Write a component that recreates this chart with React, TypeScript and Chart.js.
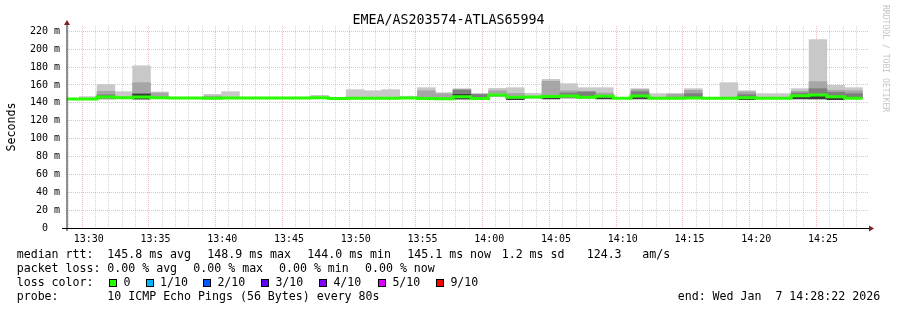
import React, { useEffect, useRef } from 'react';
import { Chart, registerables } from 'chart.js';

Chart.register(...registerables);

// ---------- data ----------
const TITLE = 'EMEA/AS203574-ATLAS65994';
const START_TIME = '13:28:22';
const END_TIME = '14:28:22';
const FIRST_STEP_TIME = '13:27:57';
const STEP_SECONDS = 80;

// median rtt per 80 s step (ms)
const medianRtt: number[] = [
  144.3, 144.3, 146.7, 145.6, 146.7, 145.6, 145.5, 145.5, 145.2, 145.5,
  145.4, 145.4, 145.4, 145.4, 145.8, 145.0, 145.2, 145.3, 145.3, 145.4,
  145.0, 144.6, 146.9, 145.0, 148.9, 146.4, 146.5, 147.0, 147.6, 146.3,
  147.5, 145.2, 147.6, 145.2, 145.2, 145.4, 145.2, 145.2, 145.8, 145.2,
  145.2, 148.0, 148.9, 146.9, 145.2,
];

// smoke bands (ms), null where no spread is visible
const outerLo: (number | null)[] = [
  null, 144.0, 144.0, 145.0, 144.5, 144.8, null, null, 144.4, 145.0,
  null, null, null, null, 145.0, null, 145.0, 145.0, 145.0, 145.0,
  144.0, 144.0, 145.0, 145.0, 147.0, 144.5, 145.0, 144.5, 145.0, 145.0,
  145.0, null, 144.8, 145.0, 145.0, 145.0, null, 145.0, 144.8, 145.0,
  145.0, 144.6, 144.6, 144.8, 145.0,
];
const outerHi: (number | null)[] = [
  null, 147.0, 160.5, 152.5, 181.5, 152.2, null, null, 149.5, 152.5,
  null, null, null, null, 148.4, null, 154.8, 153.6, 154.8, 147.5,
  157.0, 151.4, 155.9, 150.6, 156.2, 157.0, 150.6, 166.3, 161.5, 157.0,
  157.0, null, 155.9, 150.3, 150.3, 155.9, null, 162.6, 153.6, 150.3,
  150.3, 155.9, 210.7, 159.6, 157.0,
];
const midLo: (number | null)[] = [
  null, null, 144.5, null, 145.0, 145.0, null, null, 145.0, null,
  null, null, null, null, null, null, null, null, null, null,
  144.5, 144.5, 145.2, null, 147.3, 145.0, null, 145.0, 145.5, null,
  145.2, null, 145.0, null, 145.0, 145.0, null, null, 145.0, null,
  null, 144.8, 144.8, 145.0, 145.0,
];
const midHi: (number | null)[] = [
  null, null, 153.0, null, 162.6, 151.0, null, null, 147.6, null,
  null, null, null, null, null, null, null, null, null, null,
  153.6, 150.2, 154.6, null, 153.6, 150.6, null, 164.2, 153.5, null,
  151.0, null, 154.8, null, 149.8, 154.0, null, null, 152.2, null,
  null, 153.0, 163.7, 154.0, 153.6,
];
const innerLo: (number | null)[] = [
  null, null, 145.0, null, 145.0, null, null, null, null, null,
  null, null, null, null, null, null, null, null, null, null,
  null, null, 145.3, 145.5, null, null, null, null, 146.0, 145.5,
  null, null, 145.2, null, null, 145.2, null, null, 145.0, null,
  null, 145.0, 145.0, 145.0, 145.2,
];
const innerHi: (number | null)[] = [
  null, null, 149.0, null, 150.3, null, null, null, null, null,
  null, null, null, null, null, null, null, null, null, null,
  null, null, 154.4, 149.5, null, null, null, null, 151.0, 152.5,
  null, null, 152.5, null, null, 150.3, null, null, 149.2, null,
  null, 151.0, 155.9, 151.7, 150.3,
];
const coreLo: (number | null)[] = [
  null, null, null, null, 144.2, null, null, null, null, null,
  null, null, null, null, null, null, null, null, null, null,
  null, null, 144.2, null, null, 143.6, null, 144.4, null, null,
  144.4, null, 144.4, null, null, null, null, null, 143.6, null,
  null, 144.4, 144.3, 143.6, null,
];
const coreHi: (number | null)[] = [
  null, null, null, null, 149.8, null, null, null, null, null,
  null, null, null, null, null, null, null, null, null, null,
  null, null, 149.5, null, null, 144.8, null, 145.5, null, null,
  146.0, null, 146.0, null, null, null, null, null, 144.5, null,
  null, 146.5, 147.5, 145.4, null,
];

const yTickStep = 10;
const yMax = 226;

const lossColors = [
  { label: '0', color: '#26ff00' },
  { label: '1/10', color: '#00b8ff' },
  { label: '2/10', color: '#0059ff' },
  { label: '3/10', color: '#5e00ff' },
  { label: '4/10', color: '#7e00ff' },
  { label: '5/10', color: '#dd00ff' },
  { label: '9/10', color: '#ff0000' },
];

const medianStats = ['145.8 ms avg', '148.9 ms max', '144.0 ms min', '145.1 ms now', '1.2 ms sd', '124.3', 'am/s'];
const lossStats = ['0.00 % avg', '0.00 % max', '0.00 % min', '0.00 % now'];
const probeText = '10 ICMP Echo Pings (56 Bytes) every 80s';
const endText = 'end: Wed Jan  7 14:28:22 2026';

// ---------- helpers ----------
const toSec = (t: string) => {
  const [h, m, s] = t.split(':').map(Number);
  return h * 3600 + m * 60 + (s || 0);
};
const t0 = toSec(START_TIME);
const t1 = toSec(END_TIME);
const slotStart = (k: number) => toSec(FIRST_STEP_TIME) - t0 + STEP_SECONDS * k;
const slotCenter = (k: number) => slotStart(k) + STEP_SECONDS / 2;
const pad2 = (n: number) => String(n).padStart(2, '0');

const MONO = '"DejaVu Sans Mono", monospace';

function band(lo: (number | null)[], hi: (number | null)[], color: string, order: number, label: string) {
  const data: { x: number; y: [number, number] }[] = [];
  lo.forEach((v, k) => {
    const h = hi[k];
    if (v != null && h != null) data.push({ x: slotCenter(k), y: [v, h] });
  });
  return {
    type: 'bar' as const,
    label,
    xAxisID: 'xData',
    yAxisID: 'y',
    data,
    backgroundColor: color,
    borderWidth: 0,
    grouped: false,
    barPercentage: 1,
    categoryPercentage: 1,
    order,
    clip: 0,
  };
}

const axesPlugin = {
  id: 'rrdAxes',
  afterDatasetsDraw(chart: any) {
    const { ctx, chartArea: a } = chart;
    ctx.save();
    ctx.strokeStyle = '#1f1f1f';
    ctx.lineWidth = 1;
    ctx.beginPath();
    ctx.moveTo(a.left, a.bottom + 3);
    ctx.lineTo(a.left, a.top - 3);
    ctx.stroke();
    ctx.strokeStyle = '#000';
    ctx.beginPath();
    ctx.moveTo(a.left - 5, Math.round(a.bottom) + 0.5);
    ctx.lineTo(a.right + 3, Math.round(a.bottom) + 0.5);
    ctx.stroke();
    ctx.fillStyle = '#801f1f';
    ctx.beginPath();
    ctx.moveTo(a.left - 3, a.top - 1);
    ctx.lineTo(a.left + 3, a.top - 1);
    ctx.lineTo(a.left, a.top - 6);
    ctx.closePath();
    ctx.fill();
    const by = Math.round(a.bottom) + 0.5;
    ctx.beginPath();
    ctx.moveTo(a.right + 1, by - 3);
    ctx.lineTo(a.right + 1, by + 3);
    ctx.lineTo(a.right + 6, by);
    ctx.closePath();
    ctx.fill();
    ctx.restore();
  },
};

const MINOR = 'rgba(143,143,143,0.38)';
const MAJOR = 'rgba(222,79,79,0.38)';

export default function App() {
  const canvasRef = useRef<HTMLCanvasElement | null>(null);

  useEffect(() => {
    const canvas = canvasRef.current;
    if (!canvas) return;
    const N = medianRtt.length;
    const medianData = medianRtt.map((m, k) => ({ x: slotStart(k), y: m }));
    medianData.push({ x: slotStart(N), y: medianRtt[N - 1] });

    const chart = new Chart(canvas, {
      type: 'bar',
      data: {
        datasets: [
          {
            type: 'line',
            label: 'median',
            xAxisID: 'xData',
            yAxisID: 'y',
            data: medianData,
            borderColor: '#26ff00',
            borderWidth: 3,
            pointRadius: 0,
            stepped: true,
            tension: 0,
            order: 0,
            clip: 0,
          } as any,
          band(coreLo, coreHi, '#3a3a3a', 1, 'core'),
          band(innerLo, innerHi, '#7e7e7e', 2, 'inner'),
          band(midLo, midHi, '#a6a6a6', 3, 'mid'),
          band(outerLo, outerHi, '#c8c8c8', 4, 'outer'),
        ],
      },
      options: {
        animation: false,
        responsive: false,
        devicePixelRatio: 1,
        events: [],
        layout: { padding: { left: 0, top: 26, right: 29, bottom: 0 } },
        plugins: { legend: { display: false }, tooltip: { enabled: false }, title: { display: false } },
        scales: {
          xData: {
            type: 'linear',
            display: false,
            min: 0,
            max: t1 - t0,
            offset: false,
          },
          x: {
            type: 'linear',
            position: 'bottom',
            min: 0,
            max: t1 - t0,
            offset: false,
            afterBuildTicks: (scale: any) => {
              const ticks: { value: number }[] = [];
              for (let s = Math.ceil(t0 / 60) * 60; s <= t1; s += 60) ticks.push({ value: s - t0 });
              scale.ticks = ticks;
            },
            afterFit: (scale: any) => {
              scale.height = 82;
            },
            ticks: {
              autoSkip: false,
              maxRotation: 0,
              minRotation: 0,
              padding: 5,
              color: '#000',
              font: { family: MONO, size: 10 },
              callback: (value: any) => {
                const minutes = Math.round((Number(value) + t0) / 60);
                if (minutes % 5 !== 0) return '';
                return `${pad2(Math.floor(minutes / 60))}:${pad2(minutes % 60)}`;
              },
            },
            grid: {
              drawTicks: false,
              lineWidth: 1,
              color: (ctx: any) => {
                const v = ctx.tick ? ctx.tick.value : 0;
                const minutes = Math.round((v + t0) / 60);
                return minutes % 5 === 0 ? MAJOR : MINOR;
              },
            },
            border: { display: false, dash: [1, 1] },
          },
          y: {
            type: 'linear',
            min: 0,
            max: yMax,
            afterFit: (scale: any) => {
              scale.width = 67;
            },
            ticks: {
              stepSize: yTickStep,
              includeBounds: false,
              padding: 7,
              color: '#000',
              font: { family: MONO, size: 10 },
              callback: (value: any) => {
                const v = Number(value);
                if (v % 20 !== 0) return '';
                return v === 0 ? '0  ' : `${v} m`;
              },
            },
            grid: {
              drawTicks: false,
              lineWidth: 1,
              color: (ctx: any) => {
                const v = ctx.tick ? ctx.tick.value : 0;
                return v % 20 === 0 ? MAJOR : MINOR;
              },
            },
            border: { display: false, dash: [1, 1] },
          },
        },
      } as any,
      plugins: [axesPlugin],
    });
    return () => chart.destroy();
  }, []);

  const txt = (left: number, top: number, text: string, extra: React.CSSProperties = {}) => (
    <span
      style={{
        position: 'absolute',
        left,
        top,
        whiteSpace: 'pre',
        fontFamily: MONO,
        fontSize: '11.6px',
        lineHeight: '14px',
        color: '#000',
        ...extra,
      }}
    >
      {text}
    </span>
  );

  const medianX = [107.3, 207.3, 307.3, 407.3, 501.7, 586.7, 642.3];
  const lossX = [107.3, 193.3, 279, 365];
  const boxX = [109, 145.7, 203, 261, 319, 378, 436];
  const rows = [246.7, 260.8, 275, 289];

  return (
    <div
      style={{
        position: 'absolute',
        left: 0,
        top: 0,
        width: 897,
        height: 310,
        background: '#ffffff',
        overflow: 'hidden',
        fontFamily: MONO,
      }}
    >
      <canvas
        ref={canvasRef}
        width={897}
        height={310}
        style={{ position: 'absolute', left: 0, top: 0, width: 897, height: 310 }}
      />
      <div
        style={{
          position: 'absolute',
          left: 0,
          top: 12,
          width: 897,
          textAlign: 'center',
          fontFamily: MONO,
          fontSize: '13.3px',
          lineHeight: '16px',
          color: '#000',
          whiteSpace: 'pre',
        }}
      >
        {TITLE}
      </div>
      <div
        style={{
          position: 'absolute',
          left: 11.2 - 40,
          top: 127.3 - 7,
          width: 80,
          textAlign: 'center',
          transform: 'rotate(-90deg)',
          fontFamily: MONO,
          fontSize: '11.6px',
          lineHeight: '14px',
          color: '#000',
        }}
      >
        Seconds
      </div>
      <div
        style={{
          position: 'absolute',
          left: 886 - 5,
          top: 5,
          writingMode: 'vertical-rl',
          fontFamily: MONO,
          fontSize: '8.1px',
          lineHeight: '10px',
          color: '#c4c4c4',
          whiteSpace: 'pre',
        }}
      >
        RRDTOOL / TOBI OETIKER
      </div>

      {txt(16.7, rows[0], 'median rtt:')}
      {medianStats.map((s, i) => (
        <React.Fragment key={'m' + i}>{txt(medianX[i], rows[0], s)}</React.Fragment>
      ))}

      {txt(16.7, rows[1], 'packet loss:')}
      {lossStats.map((s, i) => (
        <React.Fragment key={'l' + i}>{txt(lossX[i], rows[1], s)}</React.Fragment>
      ))}

      {txt(16.7, rows[2], 'loss color:')}
      {lossColors.map((c, i) => (
        <React.Fragment key={'c' + i}>
          <span
            style={{
              position: 'absolute',
              left: boxX[i],
              top: 279,
              width: 8,
              height: 8,
              boxSizing: 'border-box',
              border: '1px solid #000',
              background: c.color,
            }}
          />
          {txt(boxX[i] + 14.4, rows[2], c.label)}
        </React.Fragment>
      ))}

      {txt(16.7, rows[3], 'probe:')}
      {txt(107.3, rows[3], probeText)}
      {txt(677.7, rows[3], endText)}
    </div>
  );
}
